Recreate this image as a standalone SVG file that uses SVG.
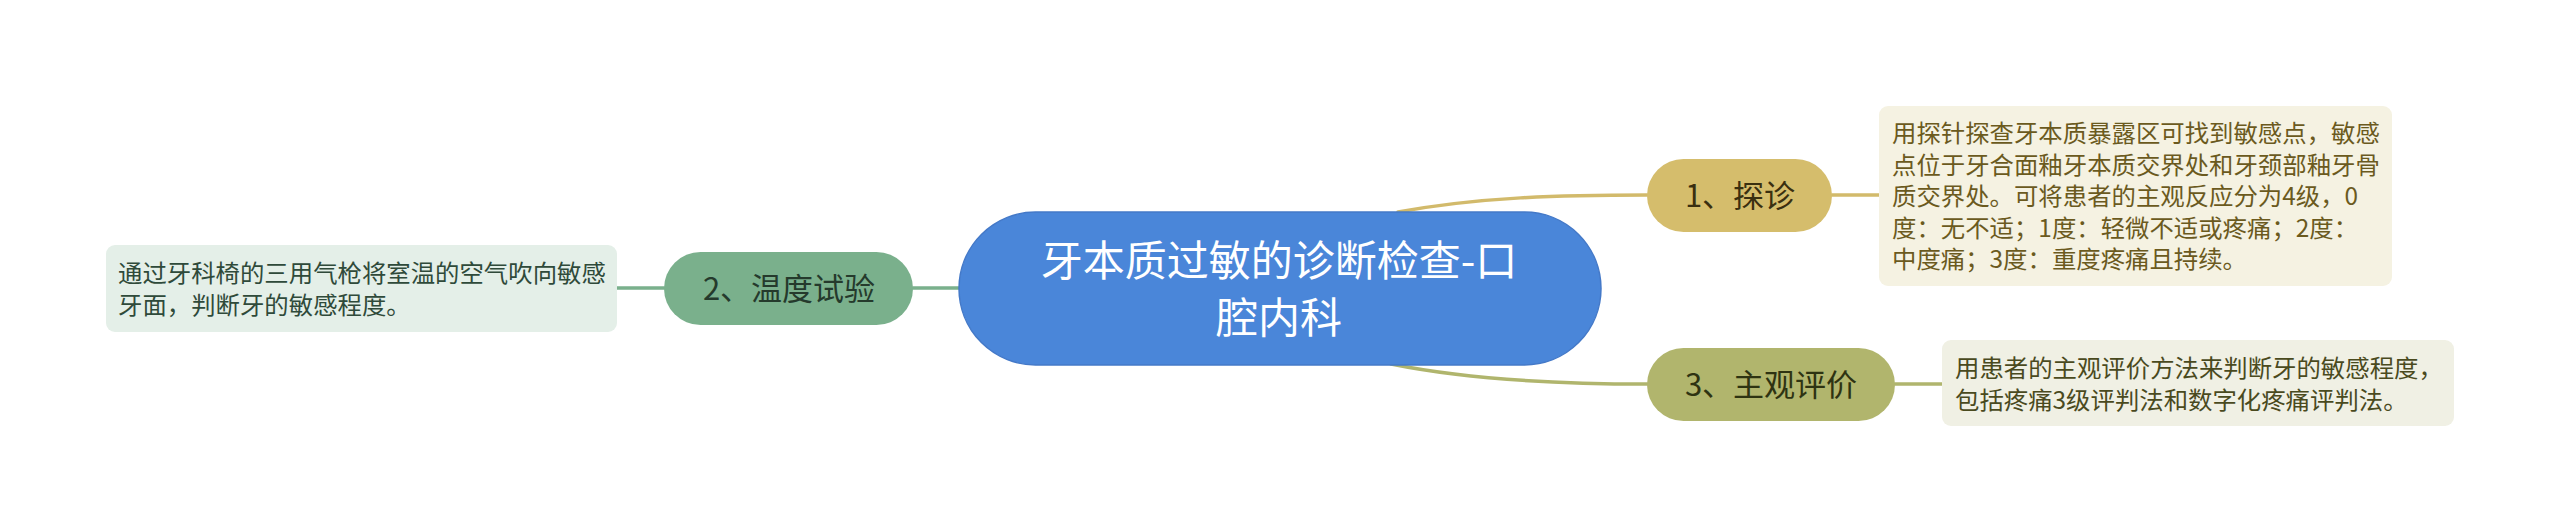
<svg xmlns="http://www.w3.org/2000/svg" width="2560" height="531" viewBox="0 0 2560 531">
<style>
text{font-family:"Noto Sans CJK SC","Noto Sans",sans-serif;}
.main{font-size:42px;fill:#ffffff;text-anchor:middle;}
.topic{font-size:31px;text-anchor:middle;}
.note{font-size:24.4px;}
.conn{fill:none;stroke-width:3.5;stroke-linecap:round;}
</style>
<rect width="2560" height="531" fill="#ffffff"/>
<g id="connectors">
<path class="conn" stroke="#d2ba6b" d="M1398 212 C1480 197 1560 195 1647 195"/>
<path class="conn" stroke="#d2ba6b" d="M1832 195 L1879 195"/>
<path class="conn" stroke="#b0b56d" d="M1391 364 C1470 380 1560 384 1647 384"/>
<path class="conn" stroke="#b0b56d" d="M1895 384 L1942 384"/>
<path class="conn" stroke="#7ab08c" d="M913 288 L962 288"/>
<path class="conn" stroke="#7ab08c" d="M617 288 L664 288"/>
</g>
<g id="central">
<rect x="959" y="212" width="642" height="153" rx="76.5" fill="#4a86d9" stroke="#4479c8" stroke-width="1.5"/>
<text class="main" x="1279" y="276">牙本质过敏的诊断检查-口</text>
<text class="main" x="1279" y="333">腔内科</text>
</g>
<g id="node1">
<rect x="1647" y="159" width="185" height="73" rx="36.5" fill="#d5bd6c"/>
<text class="topic" x="1740" y="207" fill="#3a2f10">1、探诊</text>
</g>
<g id="note1">
<rect x="1879" y="106" width="513" height="180" rx="9" fill="#f5f2e2"/>
<text class="note" fill="#6b5a1e">
<tspan x="1892" y="142">用探针探查牙本质暴露区可找到敏感点，敏感</tspan>
<tspan x="1892" y="173.5">点位于牙合面釉牙本质交界处和牙颈部釉牙骨</tspan>
<tspan x="1892" y="205">质交界处。可将患者的主观反应分为4级，0</tspan>
<tspan x="1892" y="236.5">度：无不适；1度：轻微不适或疼痛；2度：</tspan>
<tspan x="1892" y="268">中度痛；3度：重度疼痛且持续。</tspan>
</text>
</g>
<g id="node3">
<rect x="1647" y="348" width="248" height="73" rx="36.5" fill="#b1b56d"/>
<text class="topic" x="1771" y="396" fill="#2e3312">3、主观评价</text>
</g>
<g id="note3">
<rect x="1942" y="340" width="512" height="86" rx="9" fill="#f0f0e4"/>
<text class="note" fill="#4a4a1e">
<tspan x="1955" y="377">用患者的主观评价方法来判断牙的敏感程度，</tspan>
<tspan x="1955" y="408.5">包括疼痛3级评判法和数字化疼痛评判法。</tspan>
</text>
</g>
<g id="node2">
<rect x="664" y="252" width="249" height="73" rx="36.5" fill="#7ab08c"/>
<text class="topic" x="789" y="300" fill="#253a2c">2、温度试验</text>
</g>
<g id="note2">
<rect x="106" y="245" width="511" height="87" rx="9" fill="#e4efe8"/>
<text class="note" fill="#2f4a3a">
<tspan x="118" y="282">通过牙科椅的三用气枪将室温的空气吹向敏感</tspan>
<tspan x="118" y="313.5">牙面，判断牙的敏感程度。</tspan>
</text>
</g>
</svg>
